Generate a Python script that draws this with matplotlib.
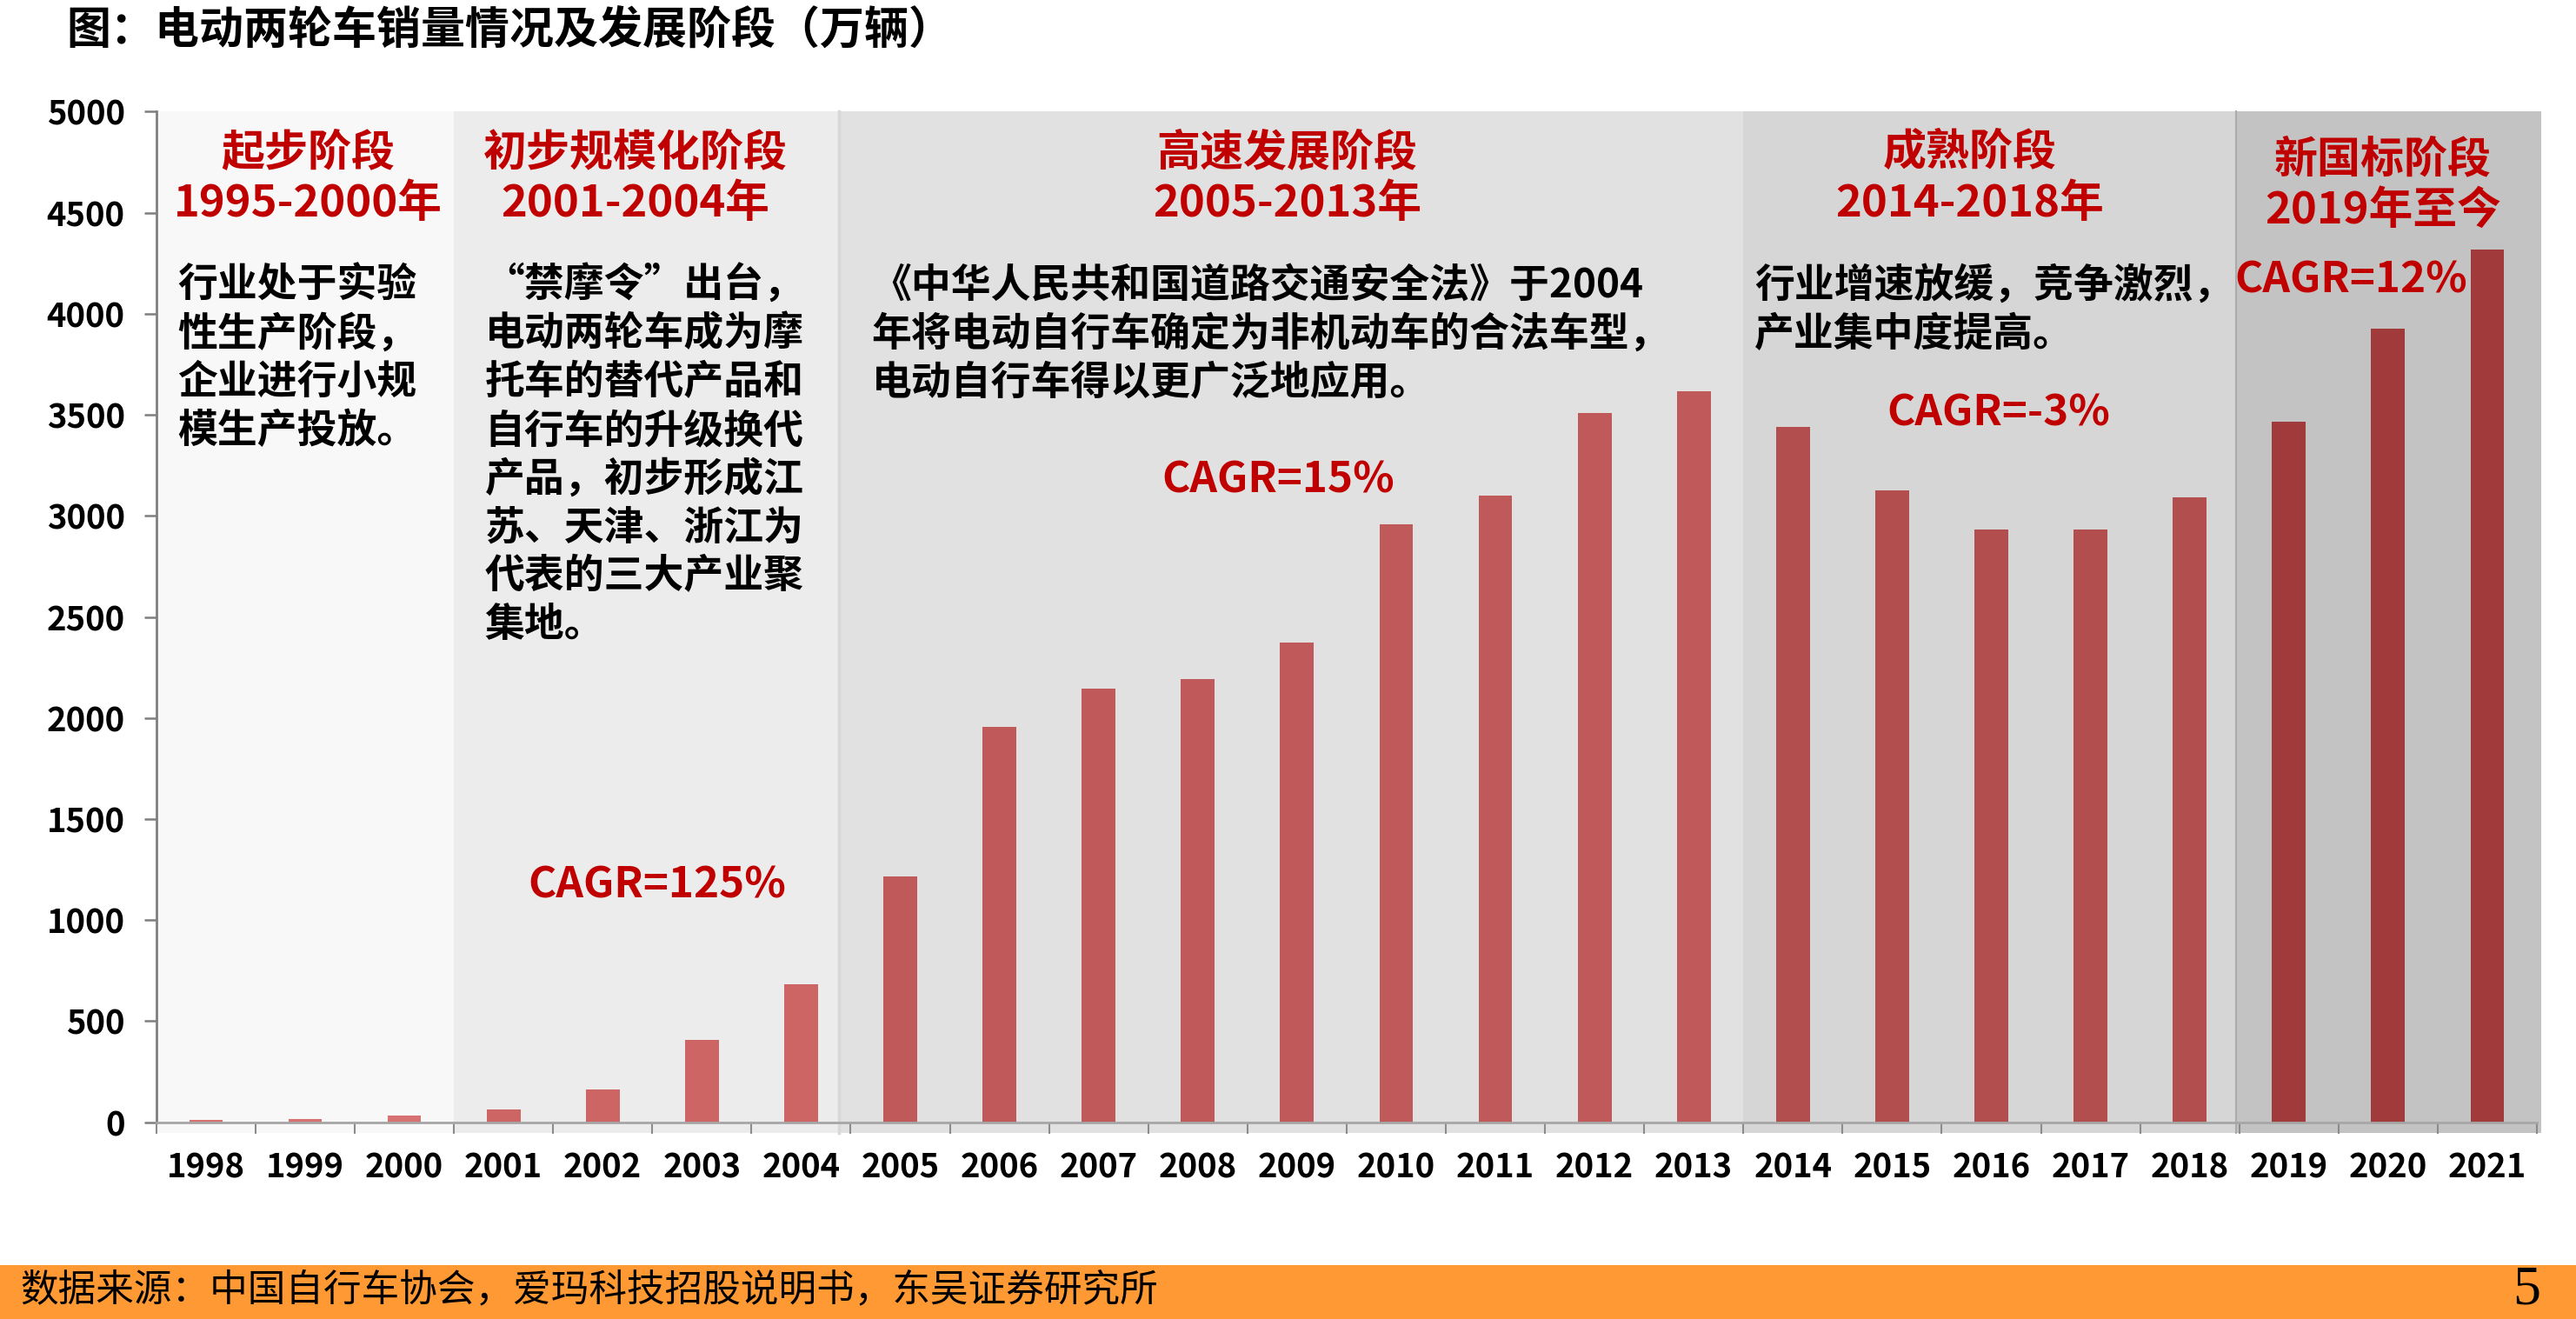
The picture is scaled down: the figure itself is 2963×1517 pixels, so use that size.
import matplotlib
matplotlib.use("Agg")
import matplotlib.pyplot as plt
import numpy as np
from matplotlib.patches import Rectangle

plt.rcParams["font.family"] = ["Noto Sans CJK SC", "DejaVu Sans"]
plt.rcParams["font.weight"] = "bold"

# data (万辆)
years = [str(y) for y in range(1998, 2022)]
sales = [13, 17, 34, 65, 164, 406, 681, 1216, 1957, 2146, 2194, 2374,
         2958, 3100, 3509, 3617, 3441, 3127, 2933, 2933, 3093, 3467, 3927, 4317]

stage_names = ["起步阶段", "初步规模化阶段", "高速发展阶段", "成熟阶段", "新国标阶段"]
stage_periods = ["1995-2000年", "2001-2004年", "2005-2013年", "2014-2018年", "2019年至今"]
stage_counts = [3, 4, 9, 5, 3]
stage_notes = [
    ["行业处于实验", "性生产阶段，", "企业进行小规", "模生产投放。"],
    ["“禁摩令”出台，", "电动两轮车成为摩", "托车的替代产品和", "自行车的升级换代",
     "产品，初步形成江", "苏、天津、浙江为", "代表的三大产业聚", "集地。"],
    ["《中华人民共和国道路交通安全法》于2004", "年将电动自行车确定为非机动车的合法车型，",
     "电动自行车得以更广泛地应用。"],
    ["行业增速放缓，竞争激烈，", "产业集中度提高。"],
]
cagr_labels = ["CAGR=125%", "CAGR=15%", "CAGR=-3%", "CAGR=12%"]

title = "图：电动两轮车销量情况及发展阶段（万辆）"
source = "数据来源：中国自行车协会，爱玛科技招股说明书，东吴证券研究所"

# styling / placement
stage_bg = ["#F8F8F8", "#ECECEC", "#E1E1E1", "#D6D6D6", "#C3C3C3"]
stage_bar = ["#D87272", "#CD6565", "#C05959", "#B34E4E", "#A13B3B"]
stage_edges = [-0.5, 2.5, 6.38, 15.5, 20.47, 23.54]
title_x = [1.03, 4.33, 10.90, 17.78, 21.95]
title_y = [4797, 4797, 4797, 4797, 4762]
note_x = [-0.29, 2.81, 6.71, 15.61]
note_y = 4138
cagr_x = [4.55, 10.81, 18.07, 21.63]
cagr_y = [1171, 3179, 3510, 4168]
red = "#C00000"

fig = plt.figure(figsize=(29.63, 15.17), dpi=100)
ax = fig.add_axes([0.0607, 0.1492, 0.9241, 0.7661])

x = np.arange(len(years))
bar_colors = np.repeat(stage_bar, stage_counts)
ax.bar(x, sales, width=0.34, color=bar_colors, zorder=2)

for i in range(5):
    ax.axvspan(stage_edges[i], stage_edges[i + 1], ymin=-0.0103, ymax=1,
               color=stage_bg[i], lw=0, zorder=0, clip_on=False)
ax.axvline(6.38, ymin=-0.0103, color="#D8D8D8", lw=2.5, zorder=0.5, clip_on=False)
ax.axvline(20.47, ymin=-0.0103, color="#ABABAB", lw=1.5, zorder=0.5, clip_on=False)

ax.set_xlim(-0.5, 23.5)
ax.set_ylim(0, 5000)
for s in ["top", "right"]:
    ax.spines[s].set_visible(False)
ax.spines["left"].set(color="#7F7F7F", lw=2)
ax.spines["bottom"].set(color="#A6A6A6", lw=2)

ax.set_yticks(np.arange(0, 5001, 500))
ax.tick_params(axis="y", direction="out", length=10, width=1.8, color="#7F7F7F",
               labelsize=27.5, pad=16)
ax.set_xticks(x)
ax.set_xticklabels(years)
ax.set_xticks(np.arange(-0.5, 24, 1), minor=True)
ax.tick_params(axis="x", which="major", length=0, labelsize=27.5, pad=24)
ax.tick_params(axis="x", which="minor", direction="out", length=9, width=1.5,
               color="#8C8C8C")

# stage headings
for i in range(5):
    ax.text(title_x[i], title_y[i], stage_names[i], color=red, fontsize=36,
            ha="center", va="center", clip_on=False)
    ax.text(title_x[i], title_y[i] - 254, stage_periods[i], color=red, fontsize=36.5,
            ha="center", va="center", clip_on=False)

# stage descriptions
for i, lines in enumerate(stage_notes):
    for j, line in enumerate(lines):
        ax.text(note_x[i], note_y - j * 239.7, line, color="black", fontsize=33,
                ha="left", va="center")

for i, lab in enumerate(cagr_labels):
    ax.text(cagr_x[i], cagr_y[i], lab, color=red, fontsize=35.5,
            ha="center", va="center", zorder=3)

fig.text(76 / 2963, 1 - 35 / 1517, title, fontsize=36.7, ha="left", va="center")

fig.add_artist(Rectangle((0, 0), 1, 62 / 1517, transform=fig.transFigure,
                         color="#FF9933", lw=0, zorder=0))
fig.text(23 / 2963, 33 / 1517, source, fontsize=31.4, fontweight="normal",
         ha="left", va="center")
fig.text(2906 / 2963, 33 / 1517, "5", family="Liberation Serif", fontsize=46,
         fontweight="normal", ha="center", va="center")

fig.savefig("out.png", dpi=100)
